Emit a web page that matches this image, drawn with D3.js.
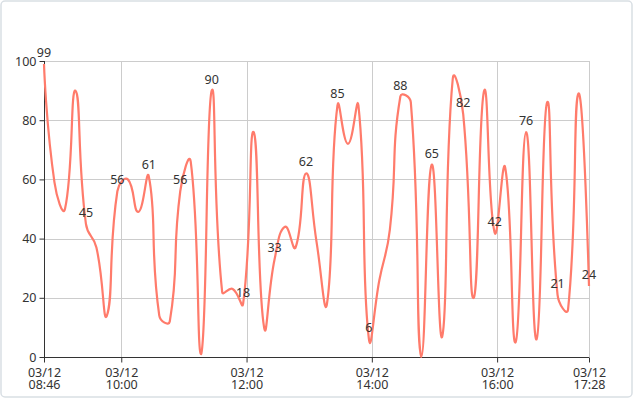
<!DOCTYPE html>
<html>
<head>
<meta charset="utf-8">
<script src="https://cdn.jsdelivr.net/npm/d3@7"></script>
<style>
  html, body { margin: 0; padding: 0; background: #fff; }
  svg { display: block; }
  text { font-family: "Noto Sans", "DejaVu Sans", sans-serif; }
</style>
</head>
<body>
<svg id="chart" width="636" height="399"></svg>
<script>
// ---- data ----
const day = "2024-03-12";
const times = [
  "08:46:00","08:56:02","09:06:05","09:16:07","09:26:09","09:36:12","09:46:14","09:56:16",
  "10:06:18","10:16:21","10:26:23","10:36:25","10:46:28","10:56:30","11:06:32","11:16:35",
  "11:26:37","11:36:39","11:46:42","11:56:44","12:06:46","12:16:48","12:26:51","12:36:53",
  "12:46:55","12:56:58","13:07:00","13:17:02","13:27:05","13:37:07","13:47:09","13:57:12",
  "14:07:14","14:17:16","14:27:18","14:37:21","14:47:23","14:57:25","15:07:28","15:17:30",
  "15:27:32","15:37:35","15:47:37","15:57:39","16:07:42","16:17:44","16:27:46","16:37:48",
  "16:47:51","16:57:53","17:07:55","17:17:58","17:28:00"
];
const values = [
  99, 59, 50, 90, 45, 37, 14, 56,
  60, 49, 61, 14, 12, 56, 66, 1,
  90, 22, 23, 18, 76, 10, 33, 44,
  37, 62, 39, 18, 85, 72, 85, 6,
  26, 43, 88, 86, 0, 65, 7, 94,
  82, 20, 90, 42, 64, 5, 76, 6,
  86, 21, 16, 89, 24
];
const labeledIdx = [0, 4, 7, 10, 13, 16, 19, 22, 25, 28, 31, 34, 37, 40, 43, 46, 49, 52];
const yTicks = [0, 20, 40, 60, 80, 100];
const xTicks = ["08:46", "10:00", "12:00", "14:00", "16:00", "17:28"];

// ---- setup ----
const W = 636, H = 399;
const M = { left: 44, right: 47, top: 61, bottom: 42 };
const FS = "12.5px";
const parseT = d3.timeParse("%Y-%m-%d %H:%M:%S");
const parseTick = d3.timeParse("%Y-%m-%d %H:%M");
const data = times.map((t, i) => ({ t: parseT(day + " " + t), v: values[i] }));
const tickDates = xTicks.map(s => parseTick(day + " " + s));

const svg = d3.select("#chart");
svg.append("rect").attr("x", 1).attr("y", 1).attr("width", 631).attr("height", 396)
  .attr("rx", 4).attr("fill", "#fff").attr("stroke", "#d9dfe4").attr("stroke-width", 1.5);

const x = d3.scaleTime().domain([tickDates[0], tickDates[tickDates.length - 1]]).range([M.left, W - M.right]);
const y = d3.scaleLinear().domain([0, 100]).range([H - M.bottom, M.top]);

// grid
const g = svg.append("g");
g.selectAll("line.hg").data(yTicks).join("line")
  .attr("x1", M.left).attr("x2", W - M.right)
  .attr("y1", d => Math.round(y(d)) + 0.5).attr("y2", d => Math.round(y(d)) + 0.5)
  .attr("stroke", "#cccccc").attr("stroke-width", 1);
g.selectAll("line.vg").data(tickDates.slice(1)).join("line")
  .attr("x1", d => Math.round(x(d)) + 0.5).attr("x2", d => Math.round(x(d)) + 0.5)
  .attr("y1", M.top).attr("y2", H - M.bottom)
  .attr("stroke", "#cccccc").attr("stroke-width", 1);

// y axis
const yAxis = svg.append("g").attr("transform", `translate(${M.left + 0.5},0)`)
  .call(d3.axisLeft(y).tickValues(yTicks).tickSize(5).tickPadding(3).tickFormat(d3.format("d")));
yAxis.select(".domain").attr("stroke", "#333").attr("d", `M0,${M.top}V${H - M.bottom}`);
yAxis.selectAll(".tick line").attr("stroke", "#333");
yAxis.selectAll(".tick text").attr("fill", "#333").style("font-size", FS)
  .style("font-family", "'Noto Sans', sans-serif");

// x axis
const xAxis = svg.append("g").attr("transform", `translate(0,${H - M.bottom + 0.5})`)
  .call(d3.axisBottom(x).tickValues(tickDates).tickSize(5).tickFormat(""));
xAxis.select(".domain").attr("stroke", "#333").attr("d", `M${M.left},0H${W - M.right}`);
xAxis.selectAll(".tick line").attr("stroke", "#333");
const fmtD = d3.timeFormat("%m/%d"), fmtT = d3.timeFormat("%H:%M");
xAxis.selectAll(".tick").each(function(d) {
  const sel = d3.select(this);
  sel.append("text").attr("fill", "#333").attr("text-anchor", "middle")
    .style("font-size", FS).style("font-family", "'Noto Sans', sans-serif")
    .attr("x", 0).attr("y", 19).text(fmtD(d));
  sel.append("text").attr("fill", "#333").attr("text-anchor", "middle")
    .style("font-size", FS).style("font-family", "'Noto Sans', sans-serif")
    .attr("x", 0).attr("y", 31).text(fmtT(d));
});

// ECharts-4-like smooth curve
function curveSmooth(smooth) {
  return function(context) {
    let pts;
    return {
      areaStart() {}, areaEnd() {},
      lineStart() { pts = []; },
      point(px, py) { pts.push([+px, +py]); },
      lineEnd() {
        const n = pts.length; if (!n) return;
        let minX = Infinity, minY = Infinity, maxX = -Infinity, maxY = -Infinity;
        for (const p of pts) {
          minX = Math.min(minX, p[0]); maxX = Math.max(maxX, p[0]);
          minY = Math.min(minY, p[1]); maxY = Math.max(maxY, p[1]);
        }
        const cl = p => [Math.min(Math.max(p[0], minX), maxX), Math.min(Math.max(p[1], minY), maxY)];
        context.moveTo(pts[0][0], pts[0][1]);
        let cp0 = pts[0].slice(), v = [0, 0];
        for (let i = 1; i < n; i++) {
          const p = pts[i], prev = pts[i - 1], next = pts[i + 1];
          let cp1, ratio = 0.5;
          if (!next) { cp1 = p.slice(); }
          else {
            v = [next[0] - prev[0], next[1] - prev[1]];
            const lp = Math.hypot(p[0] - prev[0], p[1] - prev[1]);
            const ln = Math.hypot(next[0] - p[0], next[1] - p[1]);
            ratio = ln / (ln + lp);
            cp1 = [p[0] - v[0] * smooth * (1 - ratio), p[1] - v[1] * smooth * (1 - ratio)];
          }
          const c0 = cl(cp0), c1 = cl(cp1);
          context.bezierCurveTo(c0[0], c0[1], c1[0], c1[1], p[0], p[1]);
          cp0 = [p[0] + v[0] * smooth * ratio, p[1] + v[1] * smooth * ratio];
        }
      }
    };
  };
}

const line = d3.line().x(d => x(d.t)).y(d => y(d.v)).curve(curveSmooth(0.5));
svg.append("path").datum(data).attr("d", line)
  .attr("fill", "none").attr("stroke", "#ff7b6b").attr("stroke-width", 2.2)
  .attr("stroke-linejoin", "round");

// point labels
svg.append("g").selectAll("text").data(labeledIdx.map(i => data[i])).join("text")
  .attr("x", d => x(d.t)).attr("y", d => y(d.v) - 7)
  .attr("text-anchor", "middle").attr("fill", "#333").style("font-size", FS)
  .text(d => d.v);
</script>
</body>
</html>
